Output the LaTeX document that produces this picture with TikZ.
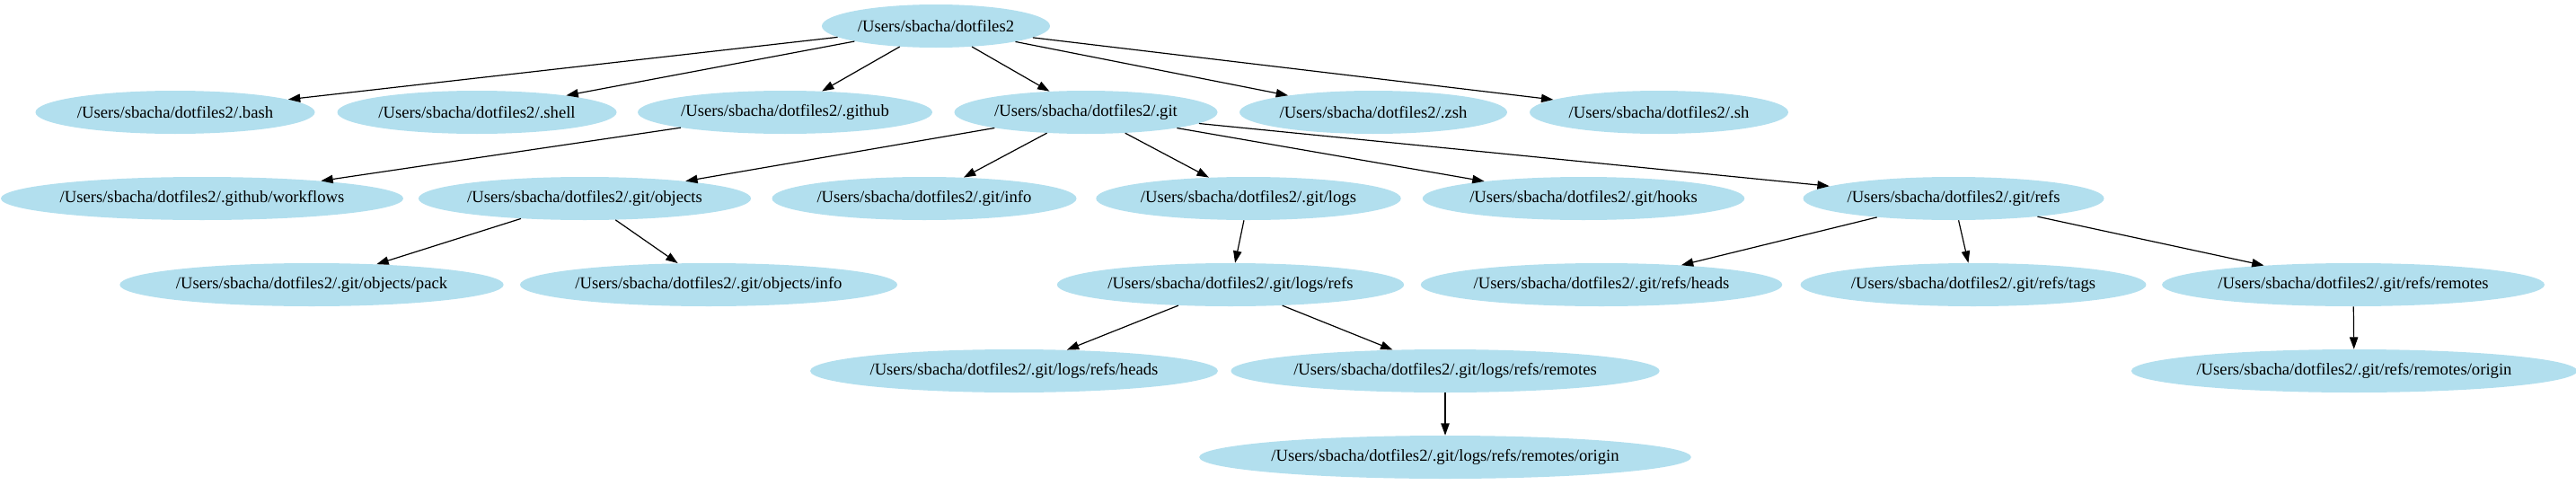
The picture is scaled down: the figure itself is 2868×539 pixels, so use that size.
\documentclass[tikz,border=0pt]{standalone}
\usepackage{fontspec}
\setmainfont{Liberation Serif}
\usetikzlibrary{shapes.geometric,arrows.meta}
\definecolor{nodeblue}{HTML}{B2DFEE}
\tikzset{
  dnode/.style={ellipse, fill=nodeblue, draw=none, inner sep=0pt, minimum height=36pt, font=\fontsize{14}{16}\selectfont},
  conn/.style={-{Triangle[length=10pt,width=7pt]}, line width=0.9pt, black}
}
\begin{document}
\begin{tikzpicture}[x=0.75pt,y=-0.75pt]
\useasboundingbox (0,0) rectangle (2868,539);
\node[dnode, minimum width=254*0.75pt] (root) at (1042,29) {/Users/sbacha/dotfiles2};
\node[dnode, minimum width=311*0.75pt] (bash) at (195,125) {/Users/sbacha/dotfiles2/.bash};
\node[dnode, minimum width=311*0.75pt] (shell) at (531,125) {/Users/sbacha/dotfiles2/.shell};
\node[dnode, minimum width=328*0.75pt] (github) at (874,125) {/Users/sbacha/dotfiles2/.github};
\node[dnode, minimum width=293*0.75pt] (git) at (1209,125) {/Users/sbacha/dotfiles2/.git};
\node[dnode, minimum width=298*0.75pt] (zsh) at (1529,125) {/Users/sbacha/dotfiles2/.zsh};
\node[dnode, minimum width=288*0.75pt] (sh) at (1847,125) {/Users/sbacha/dotfiles2/.sh};
\node[dnode, minimum width=437*0.75pt] (workflows) at (225,221) {/Users/sbacha/dotfiles2/.github/workflows};
\node[dnode, minimum width=365*0.75pt] (objects) at (651,221) {/Users/sbacha/dotfiles2/.git/objects};
\node[dnode, minimum width=339*0.75pt] (ginfo) at (1029,221) {/Users/sbacha/dotfiles2/.git/info};
\node[dnode, minimum width=338*0.75pt] (logs) at (1390,221) {/Users/sbacha/dotfiles2/.git/logs};
\node[dnode, minimum width=358*0.75pt] (hooks) at (1763,221) {/Users/sbacha/dotfiles2/.git/hooks};
\node[dnode, minimum width=335*0.75pt] (refs) at (2175,221) {/Users/sbacha/dotfiles2/.git/refs};
\node[dnode, minimum width=421*0.75pt] (pack) at (347,317) {/Users/sbacha/dotfiles2/.git/objects/pack};
\node[dnode, minimum width=415*0.75pt] (oinfo) at (789,317) {/Users/sbacha/dotfiles2/.git/objects/info};
\node[dnode, minimum width=384*0.75pt] (logsrefs) at (1370,317) {/Users/sbacha/dotfiles2/.git/logs/refs};
\node[dnode, minimum width=398*0.75pt] (rheads) at (1783,317) {/Users/sbacha/dotfiles2/.git/refs/heads};
\node[dnode, minimum width=381*0.75pt] (rtags) at (2197,317) {/Users/sbacha/dotfiles2/.git/refs/tags};
\node[dnode, minimum width=419*0.75pt] (rremotes) at (2620,317) {/Users/sbacha/dotfiles2/.git/refs/remotes};
\node[dnode, minimum width=444*0.75pt] (lrheads) at (1129,413) {/Users/sbacha/dotfiles2/.git/logs/refs/heads};
\node[dnode, minimum width=465*0.75pt] (lrremotes) at (1609,413) {/Users/sbacha/dotfiles2/.git/logs/refs/remotes};
\node[dnode, minimum width=484*0.75pt] (rrorigin) at (2621,413) {/Users/sbacha/dotfiles2/.git/refs/remotes/origin};
\node[dnode, minimum width=531*0.75pt] (lrorigin) at (1609,509) {/Users/sbacha/dotfiles2/.git/logs/refs/remotes/origin};
\foreach \t in {bash,shell,github,git,zsh,sh}{\draw[conn] (root) -- (\t);}
\draw[conn] (github) -- (workflows);
\foreach \t in {objects,ginfo,logs,hooks,refs}{\draw[conn] (git) -- (\t);}
\draw[conn] (objects) -- (pack);
\draw[conn] (objects) -- (oinfo);
\draw[conn] (logs) -- (logsrefs);
\draw[conn] (logsrefs) -- (lrheads);
\draw[conn] (logsrefs) -- (lrremotes);
\draw[conn] (lrremotes) -- (lrorigin);
\draw[conn] (refs) -- (rheads);
\draw[conn] (refs) -- (rtags);
\draw[conn] (refs) -- (rremotes);
\draw[conn] (rremotes) -- (rrorigin);
\end{tikzpicture}
\end{document}
